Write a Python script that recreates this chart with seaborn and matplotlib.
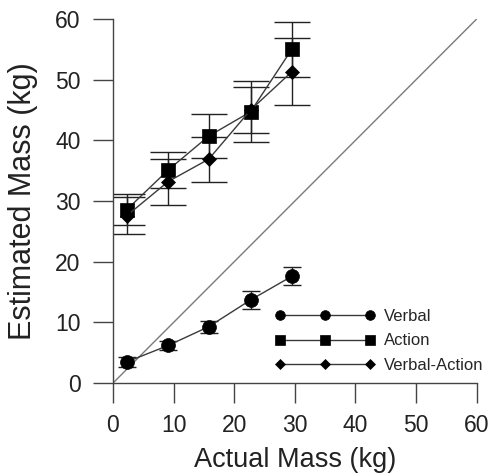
import matplotlib
matplotlib.use("Agg")
import matplotlib.pyplot as plt
import seaborn as sns
import pandas as pd

actual = [2.3, 9.1, 15.8, 22.7, 29.5]
verbal = [3.5, 6.2, 9.3, 13.7, 17.6]
verbal_err = [0.8, 0.8, 1.0, 1.5, 1.5]
action = [28.6, 35.1, 40.7, 44.7, 55.0]
action_err = [2.5, 3.0, 3.6, 5.0, 4.5]
verbal_action = [27.6, 33.2, 36.9, 45.0, 51.3]
verbal_action_err = [3.0, 3.8, 3.7, 3.8, 5.5]
x_ticks = [0, 10, 20, 30, 40, 50, 60]
y_ticks = [0, 10, 20, 30, 40, 50, 60]

sns.set_style("ticks")
plt.rcParams['font.family'] = ['Liberation Sans', 'DejaVu Sans']

fig = plt.figure(figsize=(4.91, 4.73), dpi=100)
ax = fig.add_axes([0.230, 0.190, 0.741, 0.770])

line_c = "#3a3a3a"
series = [
    ("Verbal", verbal, verbal_err, "o", 10, 6.5),
    ("Action", action, action_err, "s", 9.5, 13),
    ("Verbal-Action", verbal_action, verbal_action_err, "D", 7.5, 13),
]

# identity line
sns.lineplot(x=[0, 60], y=[0, 60], ax=ax, color="#7a7a7a", lw=1.0)

for name, vals, err, mk, ms, cap in series:
    ax.errorbar(actual, vals, yerr=err, fmt="none", ecolor="#222222",
                elinewidth=1.0, capsize=cap, capthick=1.0, zorder=2)
    df = pd.DataFrame({"x": actual, "y": vals})
    sns.lineplot(data=df, x="x", y="y", ax=ax, color=line_c, lw=1.0,
                 marker=mk, markersize=ms, markerfacecolor="black",
                 markeredgecolor="black", markeredgewidth=0.5,
                 label=name, zorder=3)

ax.set_xlim(0, 60)
ax.set_ylim(0, 60)
ax.set_xticks(x_ticks)
ax.set_yticks(y_ticks)
ax.tick_params(axis="both", direction="out", length=14.4, width=1.0,
               color="#444444", labelsize=16.5, labelcolor="#222222")
ax.tick_params(axis="x", pad=8)
ax.tick_params(axis="y", pad=9)
for s in ["top", "right"]:
    ax.spines[s].set_visible(False)
for s in ["left", "bottom"]:
    ax.spines[s].set_color("#444444")
    ax.spines[s].set_linewidth(1.0)
ax.spines["left"].set_position(("data", 0))
ax.spines["bottom"].set_position(("data", 0))

ax.set_xlabel("Actual Mass (kg)", fontsize=19.5, labelpad=7, color="#222222")
ax.set_ylabel("Estimated Mass (kg)", fontsize=22, labelpad=12, color="#222222")

handles, labels = ax.get_legend_handles_labels()
leg = ax.legend(handles[-3:], labels[-3:], loc="lower left",
                bbox_to_anchor=(0.405, -0.012), frameon=False, numpoints=3,
                handlelength=6.0, markerscale=0.7, fontsize=12,
                labelspacing=0.55, handletextpad=0.5)

fig.savefig("out.png", dpi=100)
